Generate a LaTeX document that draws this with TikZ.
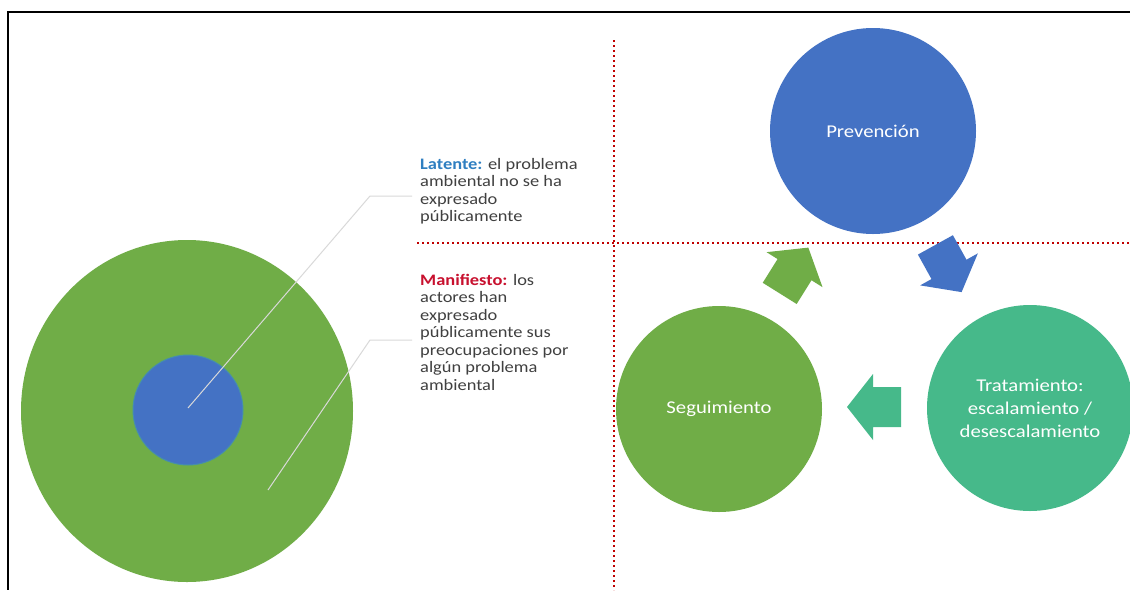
\documentclass[tikz,border=0pt]{standalone}
\usepackage{fontspec}
\setmainfont{Carlito}[FakeStretch=1.15]
\usetikzlibrary{shapes.geometric}
\definecolor{cgreen}{HTML}{70AD47}
\definecolor{cblue}{HTML}{4472C4}
\definecolor{cteal}{HTML}{46B98A}
\definecolor{lblue}{HTML}{2F7FC1}
\definecolor{lred}{HTML}{C8102E}
\definecolor{txt}{HTML}{404040}
\definecolor{dotred}{HTML}{C00000}
\definecolor{leader}{HTML}{D9D9D9}
\newcommand\blockarr[4]{% name, center, angle, colour
  \begin{scope}[shift={#2}, rotate=#3]
    \fill[#4] (-27,-20) -- (1,-20) -- (1,-33) -- (27,0) -- (1,33) -- (1,20) -- (-27,20) -- cycle;
    \coordinate (#1) at (0,0);
  \end{scope}}
\begin{document}
\begin{tikzpicture}[x=1pt,y=-1pt,
  phase/.style={circle, fill=#1, draw=none, minimum size=206pt, inner sep=0pt,
    text=white, align=center, font=\fontsize{18}{23}\selectfont},
  label/.style={anchor=north west, align=left, text=txt, inner sep=0pt,
    font=\fontsize{16}{17.5}\selectfont},
  guide/.style={draw=dotred, line width=2.4pt, dash pattern=on 2pt off 3pt},
  leaderline/.style={draw=leader, line width=1pt}]
\useasboundingbox (0,0) rectangle (1130,590);
\fill[white] (0,0) rectangle (1130,590);
% frame
\draw[line width=1.5pt] (1130,12) -- (8,12) -- (8,590);
% left: nested circles
\node[ellipse, fill=cgreen, minimum width=332pt, minimum height=342pt, inner sep=0pt] (outer) at (187,411) {};
\node[circle, fill=cblue, draw=cblue!60!cteal, line width=1pt, minimum size=110pt, inner sep=0pt] (inner) at (188,410) {};
% leaders
\coordinate (la) at (188,408);
\coordinate (lb) at (370,196);
\coordinate (lc) at (412,196);
\coordinate (ma) at (268,490);
\coordinate (mb) at (370,340);
\coordinate (mc) at (412,340);
\draw[leaderline] (la) -- (lb) -- (lc);
\draw[leaderline] (ma) -- (mb) -- (mc);
% labels
\node[label] (latente) at (420,158) {\textcolor{lblue}{\textbf{Latente:}} el problema\\ambiental no se ha\\expresado\\públicamente};
\node[label] (manif) at (420,274) {\textcolor{lred}{\textbf{Manifiesto:}} los\\actores han\\expresado\\públicamente sus\\preocupaciones por\\algún problema\\ambiental};
% dotted guides
\coordinate (v1) at (614,40);
\coordinate (v2) at (614,590);
\coordinate (h1) at (417,243);
\coordinate (h2) at (1130,243);
% right: cycle
\node[phase=cblue] (prev) at (873,131) {Prevención};
\node[phase=cteal] (trat) at (1030,408) {Tratamiento:\\escalamiento /\\desescalamiento};
\node[phase=cgreen] (seg) at (719,409) {Seguimiento};
\draw[guide] (v1) -- (v2);
\draw[guide] (h1) -- (h2);
\blockarr{a1}{(794,270.5)}{58}{cgreen}
\blockarr{a2}{(948.5,268.5)}{-61}{cblue}
\blockarr{a3}{(874,407)}{180}{cteal}
\end{tikzpicture}
\end{document}
